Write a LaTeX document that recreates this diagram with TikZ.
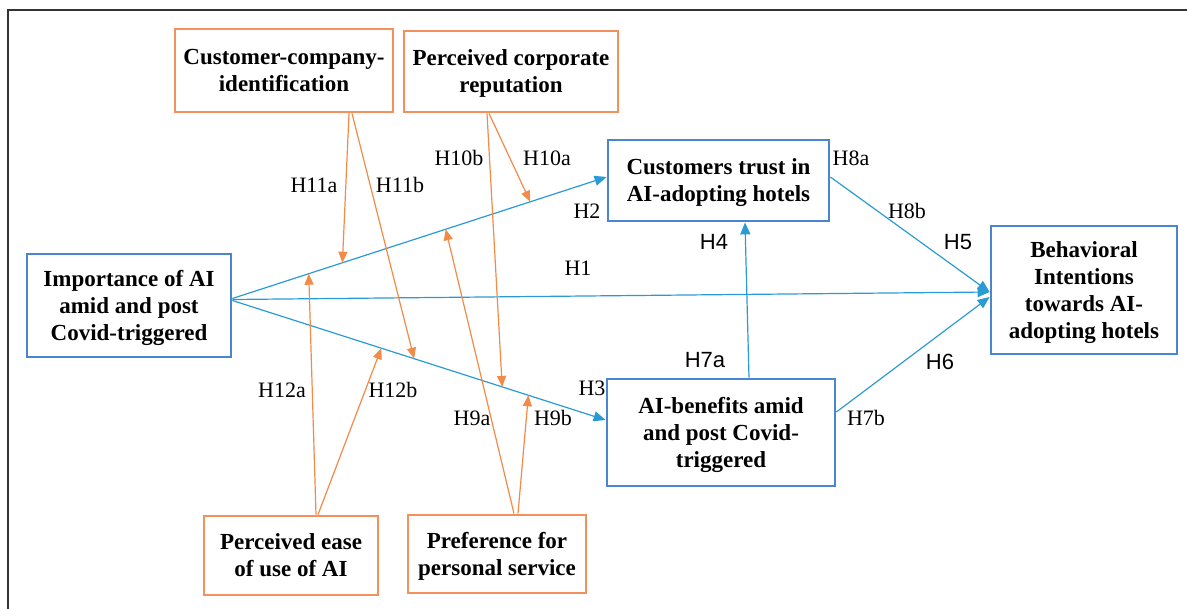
\documentclass[tikz,border=0pt]{standalone}
\usepackage{fontspec}
\setmainfont{Liberation Serif}
\newfontfamily\labsans{Liberation Sans}
\usetikzlibrary{arrows.meta}
\definecolor{boxblue}{HTML}{4A86CF}
\definecolor{lineblue}{HTML}{2A9AD5}
\definecolor{boxorange}{HTML}{F4905C}
\definecolor{lineorange}{HTML}{F28A48}
\definecolor{framegray}{HTML}{333333}
\tikzset{
  bbox/.style={draw=boxblue, line width=2.8pt, fill=white, inner sep=0pt, align=center,
    text depth=0pt, font=\fontsize{23}{27}\selectfont\bfseries},
  obox/.style={draw=boxorange, line width=2.8pt, fill=white, inner sep=0pt, align=center,
    text depth=0pt, font=\fontsize{23}{27}\selectfont\bfseries},
  bline/.style={draw=lineblue, line width=1.2pt, -{Triangle[length=12pt,width=10pt]}},
  oline/.style={draw=lineorange, line width=1.2pt, -{Triangle[length=11pt,width=9pt]}},
  lab/.style={font=\fontsize{22}{26}\selectfont, inner sep=0pt},
  slab/.style={font=\labsans\fontsize{22}{26}\selectfont, inner sep=0pt},
}
\begin{document}
\begin{tikzpicture}[x=1pt,y=-1pt]
\useasboundingbox (0,0) rectangle (1187,609);
% frame (only left and top edges visible)
\draw[framegray, line width=2pt] (8,612) -- (8,10) -- (1190,10);

% nodes
\node[obox, minimum width=218pt, minimum height=83pt] (cci) at (284,70.5) {Customer-company-\\identification};
\node[obox, minimum width=214pt, minimum height=81pt] (pcr) at (511,71.5) {Perceived corporate\\reputation};
\node[bbox, minimum width=221pt, minimum height=81pt] (trust) at (718.5,180.5) {Customers trust in\\AI-adopting hotels};
\node[bbox, minimum width=204pt, minimum height=103pt] (imp) at (129,305.5) {Importance of AI\\amid and post\\Covid-triggered};
\node[bbox, minimum width=186pt, minimum height=128pt] (bi) at (1084,290) {Behavioral\\Intentions\\towards AI-\\adopting hotels};
\node[bbox, minimum width=228pt, minimum height=107pt] (ab) at (721,432.5) {AI-benefits amid\\and post Covid-\\triggered};
\node[obox, minimum width=174pt, minimum height=79pt] (peou) at (291,555.5) {Perceived ease\\of use of AI};
\node[obox, minimum width=178pt, minimum height=78pt] (pps) at (497,554) {Preference for\\personal service};

% blue paths
\draw[bline] ([yshift=7pt]imp.east) --
  coordinate[pos=0.204] (m12a) coordinate[pos=0.294] (m11a)
  coordinate[pos=0.570] (m9a) coordinate[pos=0.796] (m10a)
  ([yshift=3.5pt]trust.west);
\draw[bline] ([yshift=6pt]imp.east) -- ([yshift=-2pt]bi.west);
\draw[bline] ([yshift=5pt]imp.east) --
  coordinate[pos=0.399] (m12b) coordinate[pos=0.487] (m11b)
  coordinate[pos=0.723] (m10b) coordinate[pos=0.793] (m9b)
  ([yshift=12.5pt]ab.west);
\draw[bline] ([xshift=28pt]ab.north) -- ([xshift=26.5pt]trust.south);
\draw[bline] ([yshift=3.5pt]trust.east) -- ([yshift=-2pt]bi.west);
\draw[bline] ([yshift=20.5pt]ab.east) -- ([yshift=-7pt]bi.west);

% orange paths
\draw[oline] ([xshift=65pt]cci.south) -- (m11a);
\draw[oline] ([xshift=68pt]cci.south) -- (m11b);
\draw[oline] ([xshift=-22pt]pcr.south) -- (m10a);
\draw[oline] ([xshift=-24pt]pcr.south) -- (m10b);
\draw[oline] ([xshift=25pt]peou.north) -- (m12a);
\draw[oline] ([xshift=27pt]peou.north) -- (m12b);
\draw[oline] ([xshift=17pt]pps.north) -- (m9a);
\draw[oline] ([xshift=21pt]pps.north) -- (m9b);

% labels
\node[lab] (l11a) at (314,185) {H11a};
\node[lab] (l11b) at (400,185) {H11b};
\node[lab] (l10b) at (459,158) {H10b};
\node[lab] (l10a) at (547,158) {H10a};
\node[lab] (l2) at (587,211) {H2};
\node[lab] (l1) at (578,268) {H1};
\node[lab] (l3) at (592,388) {H3};
\node[lab] (l8a) at (851,158) {H8a};
\node[lab] (l8b) at (907,211) {H8b};
\node[slab] (l4) at (714,242) {H4};
\node[slab] (l5) at (958,242) {H5};
\node[slab] (l6) at (940,362) {H6};
\node[slab] (l7a) at (705,360) {H7a};
\node[lab] (l7b) at (866,418) {H7b};
\node[lab] (l12a) at (282,390) {H12a};
\node[lab] (l12b) at (393,390) {H12b};
\node[lab] (l9a) at (472,418) {H9a};
\node[lab] (l9b) at (553,418) {H9b};
\end{tikzpicture}
\end{document}
